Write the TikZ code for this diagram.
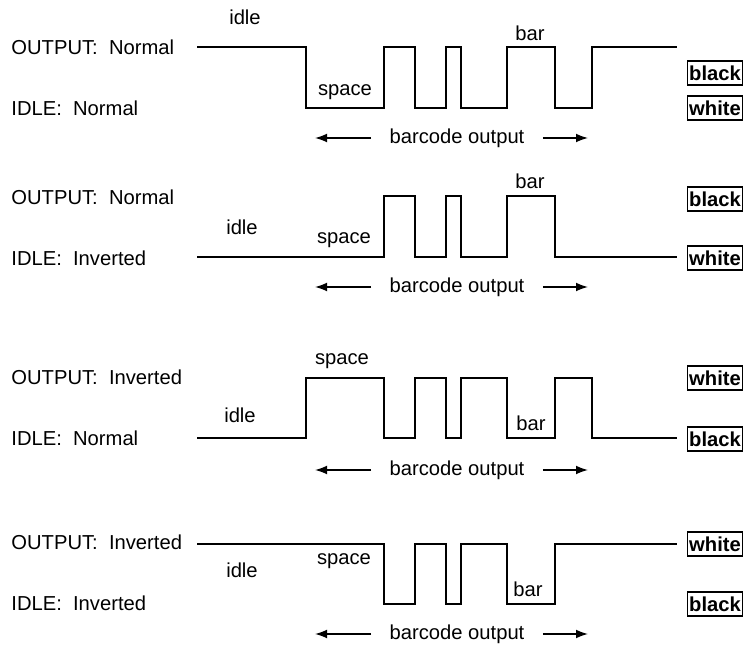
\documentclass[tikz,border=0pt]{standalone}
\usepackage{fontspec}
\setmainfont{Liberation Sans}
\usetikzlibrary{arrows.meta,positioning}
\tikzset{
  >=Latex,
  every picture/.style = {line join=miter, line cap=butt},
  every node/.style = {font=\fontsize{10.1}{12}\selectfont, inner sep=0pt},
  wave/.style = {draw=black, line width=0.75pt},
  mode label/.style = {anchor=west},
  wave label/.style = {},
  level box/.style = {
    draw=black,
    line width=0.7pt,
    font=\fontsize{10.1}{12}\selectfont\bfseries,
    minimum width=27.5pt,
    minimum height=12pt,
    inner sep=0pt
  },
  span arrow/.style = {-{Latex[length=6pt,width=4.4pt]}, draw=black, line width=0.7pt, shorten <=9pt},
}

\begin{document}
\begin{tikzpicture}[x=0.5pt,y=-0.5pt]
  \useasboundingbox (0,0) rectangle (745,646);

  % normal output, normal idle
  \node[mode label] (out1) at (11,47) {OUTPUT:\ \ Normal};
  \node[mode label] (idl1) at (11,108) {IDLE:\ \ Normal};
  \draw[wave] (197,47) -| (306,108) -| (384,47) -| (415,108) -| (446,47)
    -| (461,108) -| (507,47) -| (555,108) -| (592,47) -- (677,47);
  \node[wave label] (idle1) at (245,17) {idle};
  \node[wave label] (bar1) at (530,33) {bar};
  \node[wave label] (space1) at (345,92) {space};
  \node[level box] (lvA1) at (715,73) {black};
  \node[level box] (lvB1) at (715,108) {white};

  % normal output, inverted idle
  \node[mode label] (out2) at (11,197) {OUTPUT:\ \ Normal};
  \node[mode label] (idl2) at (11,258) {IDLE:\ \ Inverted};
  \draw[wave] (197,257) -| (384,196) -| (415,257) -| (446,196) -| (461,257)
    -| (507,196) -| (555,257) -- (677,257);
  \node[wave label] (bar2) at (530,181) {bar};
  \node[wave label] (idle2) at (242,227) {idle};
  \node[wave label] (space2) at (344,240) {space};
  \node[level box] (lvA2) at (715,199) {black};
  \node[level box] (lvB2) at (715,258) {white};

  % inverted output, normal idle
  \node[mode label] (out3) at (11,377) {OUTPUT:\ \ Inverted};
  \node[mode label] (idl3) at (11,438) {IDLE:\ \ Normal};
  \draw[wave] (197,438) -| (306,378) -| (384,438) -| (415,378) -| (446,438)
    -| (461,378) -| (507,438) -| (555,378) -| (592,438) -- (677,438);
  \node[wave label] (space3) at (342,361) {space};
  \node[wave label] (idle3) at (240,415) {idle};
  \node[wave label] (bar3) at (531,423) {bar};
  \node[level box] (lvA3) at (715,378) {white};
  \node[level box] (lvB3) at (715,439) {black};

  % inverted output, inverted idle
  \node[mode label] (out4) at (11,542) {OUTPUT:\ \ Inverted};
  \node[mode label] (idl4) at (11,603) {IDLE:\ \ Inverted};
  \draw[wave] (197,544) -| (384,604) -| (415,544) -| (446,604) -| (461,544)
    -| (507,604) -| (555,544) -- (677,544);
  \node[wave label] (space4) at (344,561) {space};
  \node[wave label] (idle4) at (242,570) {idle};
  \node[wave label] (bar4) at (528,589) {bar};
  \node[level box] (lvA4) at (715,544) {white};
  \node[level box] (lvB4) at (715,604) {black};

  \foreach \i/\y in {1/138,2/287,3/470,4/634} {
    \node (span\i) at (457,\y) {barcode output};
    \coordinate (spanL\i) at (315,\y);
    \coordinate (spanR\i) at (588,\y);
    \draw[span arrow] (span\i.west) -- (spanL\i);
    \draw[span arrow] (span\i.east) -- (spanR\i);
  }
\end{tikzpicture}
\end{document}
